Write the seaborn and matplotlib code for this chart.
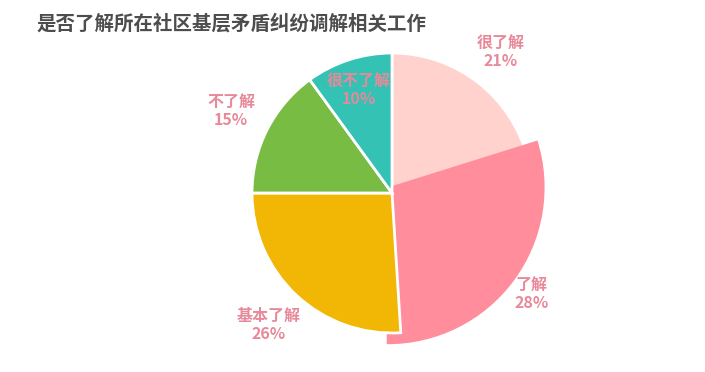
import numpy as np
import matplotlib
matplotlib.use("Agg")
import matplotlib.pyplot as plt
import seaborn as sns

# data
labels = ["很了解", "了解", "基本了解", "不了解", "很不了解"]
values = [21, 28, 26, 15, 10]
colors = ["#FFD2CD", "#FF8D9C", "#F2B705", "#78BC44", "#33C2B4"]
label_dist = [1.27, 1.23, 1.29, 1.29, 0.77]
title = "是否了解所在社区基层矛盾纠纷调解相关工作"
highlight = 1  # "了解" slice is drawn enlarged

sns.set_theme(style="white")
plt.rcParams["font.family"] = ["Noto Sans CJK SC", "DejaVu Sans"]

fig = plt.figure(figsize=(7.05, 3.72), dpi=100)
L = 1.25
ax = fig.add_axes([217 / 705, 4 / 372, 350 / 705, 350 / 372])

wedges, _ = ax.pie(values, colors=sns.color_palette(colors), startangle=90,
                   counterclock=False, radius=1.0,
                   wedgeprops=dict(edgecolor="white", linewidth=2))

# emphasised slice: bigger, a bit wider, slightly shifted
# (over the first slice, under the following ones)
w = wedges[highlight]
w.set_radius(1.12)
w.set_theta1(w.theta1 - 4)
w.set_theta2(w.theta2 + 3)
w.set_center((-0.03, 0.04))
w.set_linewidth(0)
wedges[0].set_zorder(0.5)

for wd, lab, v, d in zip(wedges, labels, values, label_dist):
    a0 = wd.theta1 + (4 if wd is w else 0)
    a1 = wd.theta2 - (3 if wd is w else 0)
    ang = np.deg2rad((a0 + a1) / 2)
    ax.text(d * np.cos(ang), d * np.sin(ang), f"{lab}\n{v}%",
            ha="center", va="center", fontsize=11.5, fontweight="bold",
            color="#E8899A", linespacing=1.15, zorder=5, clip_on=False)

ax.set_xlim(-L, L)
ax.set_ylim(-L, L)
ax.set_aspect("equal")
ax.axis("off")

fig.text(37 / 705, 1 - 24 / 372, title, fontsize=14, fontweight="bold",
         color="#4D4D4D", ha="left", va="center")

fig.savefig("out.png", dpi=100)
